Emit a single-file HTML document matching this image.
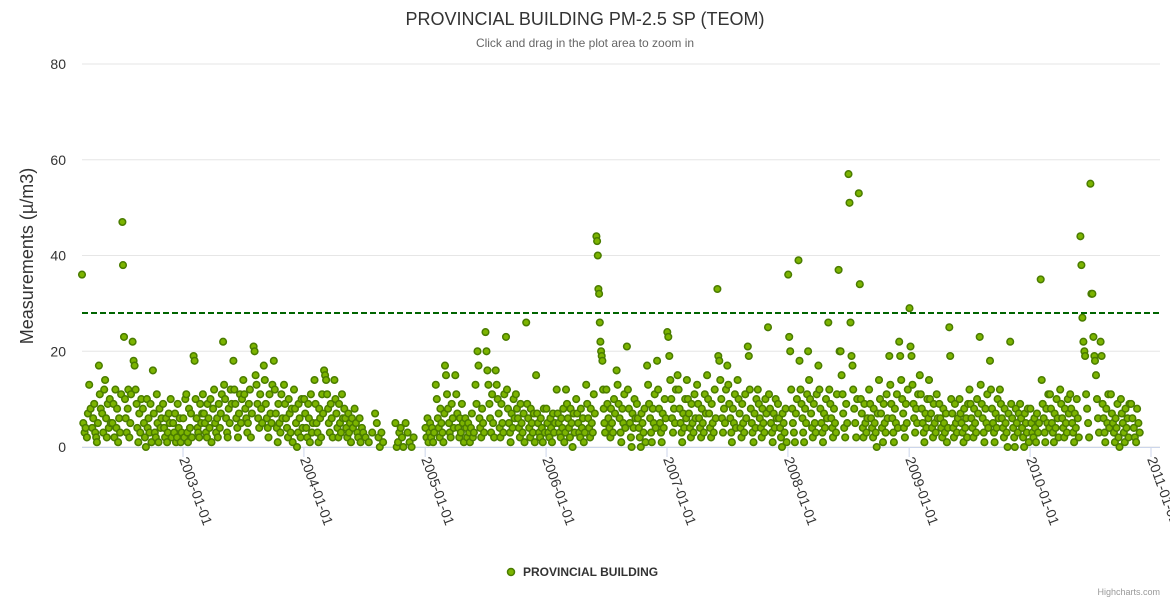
<!DOCTYPE html>
<html><head><meta charset="utf-8"><style>
body{margin:0;background:#fff;}
svg{display:block;font-family:"Liberation Sans",sans-serif;}
</style></head><body>
<svg id="chart" width="1170" height="600">
<text x="585" y="25" text-anchor="middle" font-size="18" fill="#333">PROVINCIAL BUILDING PM-2.5 SP (TEOM)</text>
<text x="585" y="47" text-anchor="middle" font-size="12" fill="#666">Click and drag in the plot area to zoom in</text>
<text transform="translate(33,256) rotate(-90)" text-anchor="middle" font-size="18" fill="#333">Measurements (µ/m3)</text>
<g id="grid"></g>
<g id="xaxis"></g>
<g id="plot"></g>
<g>
<circle cx="511" cy="572" r="3.5" fill="#7cb400" stroke="#4a7c00" stroke-width="1.5"/>
<text x="523" y="576" font-size="12" font-weight="bold" fill="#333">PROVINCIAL BUILDING</text>
</g>
<text x="1160" y="595" text-anchor="end" font-size="9" fill="#999">Highcharts.com</text>
</svg>
<script>
const yTicks=[0,20,40,60,80];
const xTickLabels=["2003-01-01","2004-01-01","2005-01-01","2006-01-01","2007-01-01","2008-01-01","2009-01-01","2010-01-01","2011-01-01"];
const threshold=28;
const months=["2002-03","2002-04","2002-05","2002-06","2002-07","2002-08","2002-09","2002-10","2002-11","2002-12",
"2003-01","2003-02","2003-03","2003-04","2003-05","2003-06","2003-07","2003-08","2003-09","2003-10","2003-11","2003-12",
"2004-01","2004-02","2004-03","2004-04","2004-05","2004-06","2004-07","2004-08","2004-09","2004-10","2004-11","2004-12",
"2005-01","2005-02","2005-03","2005-04","2005-05","2005-06","2005-07","2005-08","2005-09","2005-10","2005-11","2005-12",
"2006-01","2006-02","2006-03","2006-04","2006-05","2006-06","2006-07","2006-08","2006-09","2006-10","2006-11","2006-12",
"2007-01","2007-02","2007-03","2007-04","2007-05","2007-06","2007-07","2007-08","2007-09","2007-10","2007-11","2007-12",
"2008-01","2008-02","2008-03","2008-04","2008-05","2008-06","2008-07","2008-08","2008-09","2008-10","2008-11","2008-12",
"2009-01","2009-02","2009-03","2009-04","2009-05","2009-06","2009-07","2009-08","2009-09","2009-10","2009-11","2009-12",
"2010-01","2010-02","2010-03","2010-04","2010-05","2010-06","2010-07","2010-08","2010-09","2010-10","2010-11"];
const values=[
[36,5,3,4,2,7,13,8],[4,6,9,3,2,1,5,17,11,8],[7,3,12,14,6,2,9,4,10,5],[5,9,2,12,4,8,1,6,3,11],[47,38,23,10,6,3,8,12,2,5,11],[22,18,17,12,9,4,1,7,3,10],[8,5,2,0,10,4,6,3,9,1],[16,7,3,2,11,5,1,8,4,6],[9,4,2,6,1,3,7,5,10,2],[5,3,7,1,2,9,4,6,1,3],
[6,2,10,11,3,1,8,4,7,2],[19,18,10,6,4,3,2,9,5,7],[11,7,5,3,2,9,6,4,10,1],[8,12,5,3,6,2,9,4,7,11],[22,13,10,6,3,2,8,5,12,9],[18,12,9,6,4,2,7,11,5,10],[14,11,8,6,3,5,9,12,2,7],[21,20,15,13,9,6,4,11,8,5],[17,14,9,6,4,2,11,7,5,13],[18,12,7,4,1,9,5,3,11,6],[13,9,6,4,2,10,7,3,8,1],[12,8,5,0,3,9,6,2,10,4],
[10,7,4,2,9,6,1,11,3,5],[14,9,5,3,1,8,6,2,11,7],[16,15,14,11,8,5,3,9,6,2],[14,10,7,4,2,9,5,3,11,6],[8,6,4,2,7,3,5,1,6,4],[8,5,3,2,6,1,4,3],[2,1,3],[7,5,2,0,3,1],[],[5,0,1,3,4,2,0],[5,3,1,0,2],[],
[4,2,6,1,3,5,2,4,1,3],[13,10,6,4,2,8,5,3,1,7],[17,15,11,8,5,3,2,9,6,4],[15,11,7,4,2,6,3,9,5,1],[6,4,2,5,3,1,4,7,2,3],[13,9,20,17,6,4,2,8,5,3],[24,20,16,13,9,6,3,11,5,2],[16,13,10,7,4,2,9,5,3,11],[23,12,8,5,3,1,7,4,10,6],[11,8,6,4,2,9,5,3,7,1],[26,9,6,4,2,8,5,3,7,1],[15,7,5,3,2,6,4,1,8,3],
[8,5,3,2,6,4,1,7,3,5],[12,7,5,3,2,6,4,8,1,3],[12,9,6,4,2,8,5,0,7,3],[10,7,5,3,2,8,4,6,1,3],[13,9,6,4,2,8,5,3,11,7],[44,43,40,33,32,26,22,20,19,18,12,8,5,3],[12,9,6,4,2,8,5,3,10,7],[16,13,9,6,3,1,8,5,11,4],[21,12,8,5,2,0,7,4,10,6],[9,6,4,2,0,7,5,3,8,1],[17,13,9,6,3,1,8,5,11,4],[18,12,8,5,3,1,7,4,10,6],
[24,23,19,14,10,6,3,8,5,12],[15,12,8,5,3,1,7,4,10,6],[14,10,7,4,2,9,5,3,11,6],[13,9,6,4,2,8,5,3,11,7],[15,10,7,4,2,9,5,3,12,6],[33,19,18,14,10,6,3,8,5,12],[17,13,9,6,3,1,8,5,11,4],[14,10,7,4,2,9,5,3,11,6],[21,19,12,8,5,3,1,7,4,10],[12,9,6,4,2,8,5,3,10,7],[25,11,8,5,3,1,7,4,10,6],[9,6,4,2,0,7,5,3,8,1],
[36,23,20,12,8,5,3,1,7,10],[39,18,12,9,6,3,1,8,5,11],[20,14,10,7,4,2,9,5,3,11],[17,12,8,5,3,1,7,4,10,6],[26,12,9,6,4,2,8,5,3,11],[37,20,20,15,11,7,4,2,9,5],[57,51,26,19,17,12,8,5,2,10],[53,34,10,7,4,2,9,5,3,6],[12,9,6,4,2,8,5,3,0,7],[14,10,7,4,1,9,5,3,11,6],[19,13,9,6,3,1,8,5,11,4],[22,19,14,10,7,4,2,9,5,12],
[29,21,19,13,9,6,3,8,5,11],[15,11,8,5,3,1,7,4,10,6],[14,10,7,4,2,9,5,3,11,6],[9,6,4,2,8,5,3,7,1,4],[25,19,10,7,4,2,9,5,3,6],[10,7,5,3,1,8,4,6,2,9],[12,9,6,4,2,8,5,3,10,7],[23,13,9,6,3,1,8,5,11,4],[18,12,8,5,3,1,7,4,10,6],[12,9,6,4,2,8,5,3,0,7],[22,9,6,4,2,0,8,5,3,7],[9,6,4,2,0,7,5,3,8,1],
[8,5,3,2,6,4,1,7,3,5],[35,14,9,6,3,1,8,5,11,4],[11,8,5,3,1,7,4,10,6,2],[12,9,6,4,2,8,5,3,10,7],[11,8,5,3,1,7,4,10,6,2],[44,38,27,22,20,19,11,8,5,2],[55,32,32,23,19,18,15,10,6,3],[22,19,9,6,3,1,8,5,11,4],[11,7,5,3,1,6,4,9,2,0],[10,7,5,3,1,8,4,6,2,9],[9,6,4,2,1,8,5,3]];

const NS="http://www.w3.org/2000/svg";
const X0=82,X1=1160,Y0=447,Y1=64;
const t0=Date.UTC(2003,0,1),t1=Date.UTC(2011,0,1);
function xScale(t){return 183+(t-t0)/(t1-t0)*(1151-183);}
function yScale(v){return Y0-(v/80)*(Y0-Y1);}
function mk(tag,attrs,parent){const e=document.createElementNS(NS,tag);for(const k in attrs)e.setAttribute(k,attrs[k]);parent.appendChild(e);return e;}
const grid=document.getElementById('grid'),xa=document.getElementById('xaxis'),plot=document.getElementById('plot');
yTicks.forEach(v=>{
  const l=mk('line',{x1:X0,x2:X1,y1:yScale(v),y2:yScale(v),stroke:'#e6e6e6'},grid);
  
  
  const t=mk('text',{x:66,y:yScale(v)+5,'text-anchor':'end','font-size':14,fill:'#333'},grid);
  t.textContent=v;
  
  
});
mk('line',{x1:X0,x2:X1,y1:Y0+0.5,y2:Y0+0.5,stroke:'#ccd6eb'},xa);
xTickLabels.forEach(s=>{
  const p=s.split('-');const x=xScale(Date.UTC(+p[0],+p[1]-1,+p[2]));
  mk('line',{x1:x,x2:x,y1:Y0,y2:Y0+10,stroke:'#ccd6eb'},xa);
  const t=mk('text',{transform:`translate(${x-4},${Y0+12}) rotate(70)`,'font-size':14,fill:'#333'},xa);
  t.textContent=s;
  
  
});
months.forEach((m,i)=>{
  const [yy,mm]=m.split('-').map(Number);
  const vs=values[i]||[];
  vs.forEach((v,j)=>{
    const day=1+(j+0.5)/vs.length*29;
    const x=xScale(Date.UTC(yy,mm-1,day));
    const c=mk('circle',{cx:x.toFixed(1),cy:yScale(v).toFixed(1),r:3.3,fill:'#7cb400',stroke:'#4a7c00','stroke-width':1.5},plot);
    
    
  });
});
const th=mk('line',{x1:X0,x2:X1,y1:yScale(threshold),y2:yScale(threshold),stroke:'#006400','stroke-width':2,'stroke-dasharray':'6,3'},plot);


</script>
</body></html>
